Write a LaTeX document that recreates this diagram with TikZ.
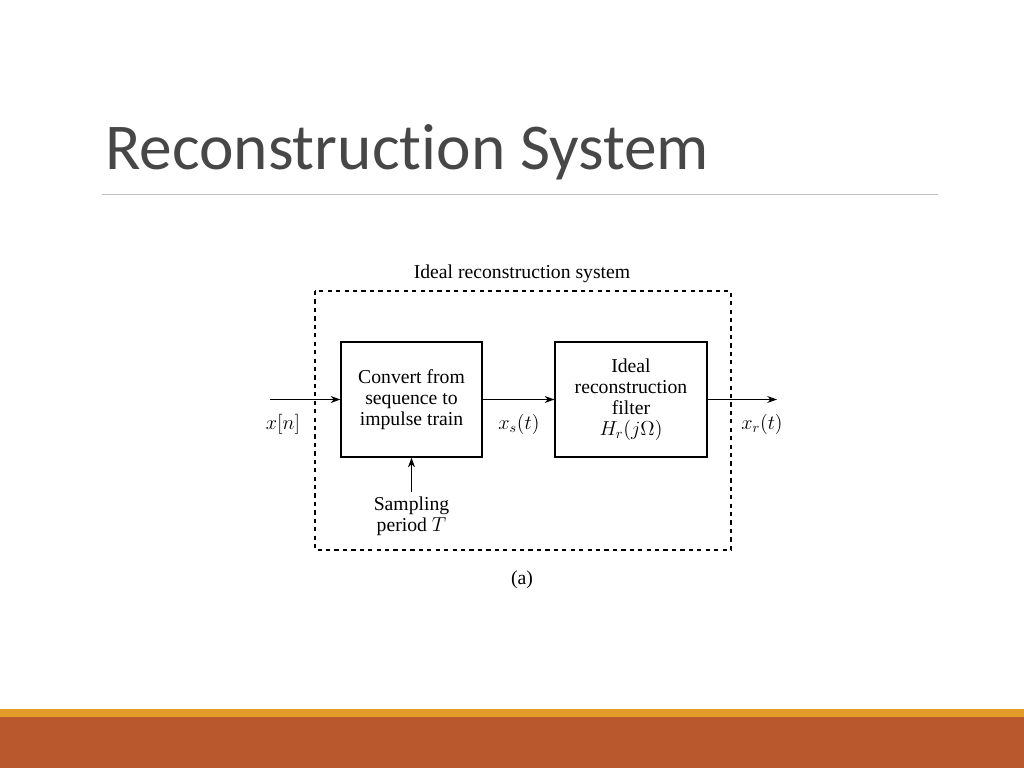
\documentclass[tikz,border=0pt]{standalone}
\usepackage{fontspec}
\setmainfont{Liberation Serif}
\newfontfamily\titlefont[Ligatures={NoCommon,NoRare,NoDiscretionary}]{Carlito}
\usetikzlibrary{positioning,arrows.meta}
\definecolor{rust}{HTML}{B9582C}
\definecolor{amber}{HTML}{E59B2A}
\begin{document}
\begin{tikzpicture}[x=0.025cm, y=-0.025cm,
	blockbox/.style={draw, thick, minimum width=141*0.025cm, minimum height=115*0.025cm, align=center, font=\fontsize{14}{15}\selectfont, inner sep=1pt},
	sig/.style={font=\fontsize{14}{15}\selectfont},
	>={Stealth[length=7pt,width=5pt]},
	]
	\useasboundingbox (0,0) rectangle (1024,768);
	%Title and bars
	\node[anchor=base west, inner sep=0, text=black!72, font=\titlefont\fontsize{46.5}{50}\selectfont] (title) at (105,170) {Reconstruction System};
	\draw[black!25] (102,194) -- (938,194);
	\fill[amber] (0,709) rectangle (1024,717);
	\fill[rust] (0,717) rectangle (1024,768);
	%Nodes
	\node[blockbox] (conv) at (411.5,399.5) {Convert from\\sequence to\\impulse train};
	\node[blockbox, minimum width=152*0.025cm] (filt) at (631,399.5) {Ideal\\reconstruction\\filter\\$H_r(j\Omega)$};
	\coordinate (in) at (270,399.5);
	\coordinate (out) at (777,399.5);
	\coordinate (samp) at (411.5,492);
	\draw[dashed, thick] (315,291) rectangle (731,550);
	\node[sig] (sysl) at (522,274) {Ideal reconstruction system};
	\node[sig] (xn) at (283,424) {$x[n]$};
	\node[sig] (xs) at (519,424) {$x_s(t)$};
	\node[sig] (xr) at (762,424) {$x_r(t)$};
	\node[sig, align=center, below=0pt of samp] (sampl) {Sampling\\period $T$};
	\node[sig] (cap) at (522,580) {(a)};
	%Lines
	\draw[->,thick] (in) -- (conv);
	\draw[->,thick] (conv) -- (filt);
	\draw[->,thick] (filt) -- (out);
	\draw[->,thick] (samp) -- (conv);
\end{tikzpicture}
\end{document}
